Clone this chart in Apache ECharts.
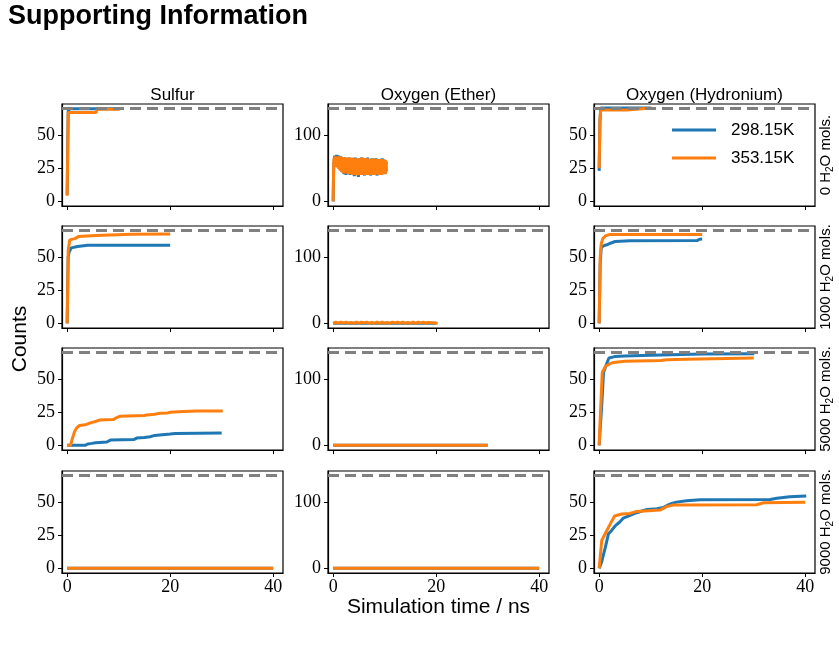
<!DOCTYPE html>
<html>
<head>
<meta charset="utf-8">
<script src="https://cdn.jsdelivr.net/npm/echarts@6/dist/echarts.min.js"></script>
<style>html,body{margin:0;padding:0;background:#fff;}#c{width:839px;height:656px;}</style>
</head>
<body>
<div id="c"></div>
<script>
// ---------- data ----------
const columns = ['Sulfur', 'Oxygen (Ether)', 'Oxygen (Hydronium)'];
const waterCounts = ['0', '1000', '5000', '9000'];
const temps = ['298.15K', '353.15K'];
const maxCounts = [70, 140, 70];
const xTicks = [0, 20, 40];
const yTicksSmall = [0, 25, 50];
const yTicksLarge = [0, 100];

// Row 0 : 0 H2O
const S0_298 = [[0,5],[0.2,68],[0.5,70],[10,70]];
const S0_353 = [[0,4.3],[0.2,67],[5.6,67],[5.8,69.5],[10.2,69.5]];
const E0_298 = [[0,0],[0.1,50],[0.3,69],[0.5,56],[0.7,70],[0.9,53],[1.1,69],[1.3,50],[1.5,68],[1.7,45],[1.9,67],[2.1,41],[2.3,66],[2.5,40],[2.7,65],[2.9,43],[3.1,66],[3.3,40],[3.5,64],[3.7,42],[3.9,65],[4.1,38],[4.3,66],[4.5,41],[4.7,64],[4.9,37],[5.1,65],[5.3,40],[5.5,66],[5.7,41],[5.9,64],[6.1,39],[6.3,65],[6.5,41],[6.7,66],[6.9,40],[7.1,64],[7.3,39],[7.5,65],[7.7,41],[7.9,64],[8.1,40],[8.3,65],[8.5,39],[8.7,64],[8.9,41],[9.1,63],[9.3,40],[9.5,65],[9.7,41],[9.9,63],[10.1,42],[10.3,60]];
const E0_353 = [[0,0],[0.1,58],[0.2,66],[0.3,55],[0.4,68],[0.5,54],[0.6,68],[0.7,52],[0.8,67],[0.9,51],[1.0,67],[1.1,49],[1.2,68],[1.3,47],[1.4,68],[1.5,46],[1.6,66],[1.7,44],[1.8,66],[1.9,43],[2.0,67],[2.1,42],[2.2,67],[2.3,43],[2.4,65],[2.5,42],[2.6,65],[2.7,44],[2.8,66],[2.9,41],[3.0,66],[3.1,42],[3.2,64],[3.3,41],[3.4,64],[3.5,43],[3.6,66],[3.7,40],[3.8,66],[3.9,41],[4.0,65],[4.1,40],[4.2,65],[4.3,42],[4.4,63],[4.5,41],[4.6,63],[4.7,39],[4.8,65],[4.9,40],[5.0,65],[5.1,41],[5.2,64],[5.3,40],[5.4,64],[5.5,41],[5.6,66],[5.7,40],[5.8,66],[5.9,42],[6.0,64],[6.1,41],[6.2,64],[6.3,40],[6.4,65],[6.5,41],[6.6,65],[6.7,40],[6.8,63],[6.9,41],[7.0,63],[7.1,40],[7.2,64],[7.3,42],[7.4,64],[7.5,41],[7.6,65],[7.7,40],[7.8,65],[7.9,41],[8.0,63],[8.1,40],[8.2,63],[8.3,41],[8.4,64],[8.5,42],[8.6,64],[8.7,41],[8.8,62],[8.9,40],[9.0,62],[9.1,41],[9.2,64],[9.3,40],[9.4,64],[9.5,42],[9.6,63],[9.7,41],[9.8,63],[9.9,42],[10.0,62],[10.1,41],[10.2,62],[10.4,45]];
const H0_298 = [[0,23],[0.15,60],[0.3,70.5],[10,70.5]];
const H0_353 = [[0,25],[0.15,62],[0.3,69],[5.3,69],[5.5,70.5],[10.2,70.5]];

// Row 1 : 1000 H2O
const S1_298 = [[0,0],[0.2,50],[0.4,54],[0.6,55],[0.8,57],[2,58],[4,59],[20,59]];
const S1_353 = [[0,0],[0.2,55],[0.5,63],[1.5,64],[2.2,65.5],[5.5,66.3],[12.5,67.3],[20,67.5]];
const E1_298 = [[0,0],[20,0]];
const E1_353 = [[0,0],[0.5,2],[1,0],[1.5,2],[2,0.5],[2.5,2],[3,0],[3.5,1.5],[4,0],[4.5,2],[5,0],[5.5,2],[6,0.5],[6.5,2],[7,0],[7.5,1.5],[8,0],[8.5,2],[9,0],[9.5,2],[10,0],[10.5,1.5],[11,0],[11.5,2],[12,0.5],[12.5,2],[13,0],[13.5,2],[14,0],[14.5,1.5],[15,0],[15.5,2],[16,0],[16.5,2],[17,0.5],[17.5,2],[18,0],[18.4,1.5],[18.5,0],[20.3,0]];
const H1_298 = [[0,0],[0.2,45],[0.4,57],[0.8,58.5],[1.5,59.3],[2.2,60.5],[3.1,61.8],[6,62.3],[19,62.5],[19.5,63.5],[20,63.6]];
const H1_353 = [[0,0],[0.2,50],[0.4,60],[0.7,64],[1.2,66],[2,67],[20,67]];

// Row 2 : 5000 H2O
const S2_298 = [[0,0],[3.5,0],[4,1],[4.8,1.5],[5.5,2],[7.7,2.5],[8.4,4],[13,4.5],[13.5,5.5],[15,6],[16.1,6.5],[17,7.5],[18.5,8],[20,8.5],[21,9],[30,9.3]];
const S2_353 = [[0,0],[0.65,0],[1,5],[1.4,10],[1.8,13],[2.4,15],[3.5,15.5],[4.5,17],[5.5,18],[6.4,19.2],[9,19.5],[9.4,20.5],[10.3,22],[15,22.5],[15.5,23],[17,23.5],[18,24.2],[19.5,24.5],[20,25],[22.5,25.5],[25.2,26],[30.2,26]];
const E2_298 = [[0,0],[30,0]];
const E2_353 = [[0,0],[30,0]];
const H2_298 = [[0,0],[0.3,0],[0.5,30],[0.85,55],[1.5,62],[1.9,66],[3,67],[5,67.5],[10,68],[20,69],[30.1,69.2]];
const H2_353 = [[0,0],[0.2,20],[0.6,55],[1.2,59.5],[2,61.5],[2.8,62.6],[5,63.5],[12,64],[13.1,64.6],[17,65],[30,65.9]];

// Row 3 : 9000 H2O
const S3_298 = [[0,0],[40,0]];
const S3_353 = [[0,0],[40,0]];
const E3_298 = [[0,0],[40,0]];
const E3_353 = [[0,0],[40,0]];
const H3_298 = [[0,0],[0.5,5],[1.2,15.8],[1.8,26],[2.5,29],[3.1,32],[4,35],[4.7,38],[6,40],[7.3,42],[9.3,44.5],[11.2,45],[12.5,46],[13.2,47.5],[14.1,49],[15,50],[17,51],[19.6,51.8],[33.2,52],[34.5,53],[37,54],[40.2,54.6]];
const H3_353 = [[0,0],[0.5,21],[1.5,28.6],[2.5,36],[3,39.5],[4.4,41],[6,41.5],[7.3,43],[11.8,44],[13.1,46.6],[14.4,47.8],[30.6,48],[31.9,49.5],[40,50]];

const table = [
  [[S0_298,S0_353],[E0_298,E0_353],[H0_298,H0_353]],
  [[S1_298,S1_353],[E1_298,E1_353],[H1_298,H1_353]],
  [[S2_298,S2_353],[E2_298,E2_353],[H2_298,H2_353]],
  [[S3_298,S3_353],[E3_298,E3_353],[H3_298,H3_353]]
];

// ---------- layout / style ----------
const colLeft = [62, 328, 594];
const rowTop = [104, 226, 348, 471];
const W = 221, H = 102;
const colors = ['#1f77b4', '#ff7f0e'];
const serif = 'Liberation Serif';
const sans = 'Liberation Sans';

const grid = [], xAxis = [], yAxis = [], series = [];
for (let r = 0; r < 4; r++) {
  for (let c = 0; c < 3; c++) {
    const gi = r * 3 + c;
    grid.push({left: colLeft[c], top: rowTop[r], width: W, height: H, show: true,
      borderColor: '#000', borderWidth: 1.2, backgroundColor: 'transparent', containLabel: false});
    xAxis.push({type: 'value', gridIndex: gi, min: -1, max: 41.9, splitLine: {show: false},
      axisLine: {show: true, onZero: false, lineStyle: {color: '#000', width: 1.2}},
      axisTick: {show: true, length: 4, lineStyle: {color: '#000', width: 1}, customValues: xTicks},
      axisLabel: {show: r === 3, customValues: xTicks, color: '#000', fontFamily: serif, fontSize: 18, margin: 5}});
    const big = c === 1;
    const yt = big ? yTicksLarge : yTicksSmall;
    yAxis.push({type: 'value', gridIndex: gi, min: big ? -7 : -3.5, max: big ? 147 : 73.5, splitLine: {show: false},
      axisLine: {show: true, onZero: false, lineStyle: {color: '#000', width: 1.2}},
      axisTick: {show: true, length: 4, lineStyle: {color: '#000', width: 1}, customValues: yt},
      axisLabel: {show: true, customValues: yt, color: '#000', fontFamily: serif, fontSize: 18, margin: 7}});
    for (let t = 0; t < 2; t++) {
      const s = {
        type: 'line', name: temps[t], xAxisIndex: gi, yAxisIndex: gi,
        data: table[r][c][t], showSymbol: false, symbol: 'none', z: 2 + t,
        lineStyle: {color: colors[t], width: 3}, itemStyle: {color: colors[t]},
        animation: false, clip: true
      };
      if (t === 1) {
        s.markLine = {silent: true, symbol: ['none', 'none'], label: {show: false}, animation: false,
          lineStyle: {color: '#808080', type: [11, 6], width: 3}, emphasis: {disabled: true},
          data: [{yAxis: maxCounts[c]}]};
      }
      series.push(s);
    }
  }
}

const graphic = [];
graphic.push({type: 'text', left: 8, top: 3, style: {text: 'Supporting Information', font: 'bold 27px ' + sans, fill: '#000'}});
columns.forEach((name, c) => {
  graphic.push({type: 'text', x: colLeft[c] + W / 2, y: 95, style: {text: name, font: '17px ' + sans, fill: '#000', textAlign: 'center', textVerticalAlign: 'middle'}});
});
waterCounts.forEach((n, r) => {
  graphic.push({type: 'text', x: 826, y: rowTop[r] + H / 2, rotation: Math.PI / 2,
    style: {text: '{a|' + n + ' H}{b|2}{a|O mols.}', textAlign: 'center', textVerticalAlign: 'middle', fill: '#000',
      rich: {a: {fontFamily: sans, fontSize: 15, lineHeight: 18, fill: '#000'},
             b: {fontFamily: sans, fontSize: 10, lineHeight: 18, verticalAlign: 'bottom', fill: '#000'}}}});
});
graphic.push({type: 'text', x: 20, y: 339, rotation: Math.PI / 2, style: {text: 'Counts', font: '21px ' + sans, fill: '#000', textAlign: 'center', textVerticalAlign: 'middle'}});
graphic.push({type: 'text', x: colLeft[1] + W / 2, y: 607, style: {text: 'Simulation time / ns', font: '21px ' + sans, fill: '#000', textAlign: 'center', textVerticalAlign: 'middle'}});

const chart = echarts.init(document.getElementById('c'), null, {renderer: 'canvas'});
chart.setOption({
  backgroundColor: '#fff',
  animation: false,
  grid, xAxis, yAxis, series, graphic,
  legend: {data: temps, orient: 'vertical', left: 672, top: 120, icon: 'rect', itemWidth: 44, itemHeight: 3,
    itemGap: 8, padding: 0, selectedMode: false,
    textStyle: {fontFamily: sans, fontSize: 17, color: '#000', lineHeight: 20, padding: [0, 0, 0, 10]}}
});
</script>
</body>
</html>
